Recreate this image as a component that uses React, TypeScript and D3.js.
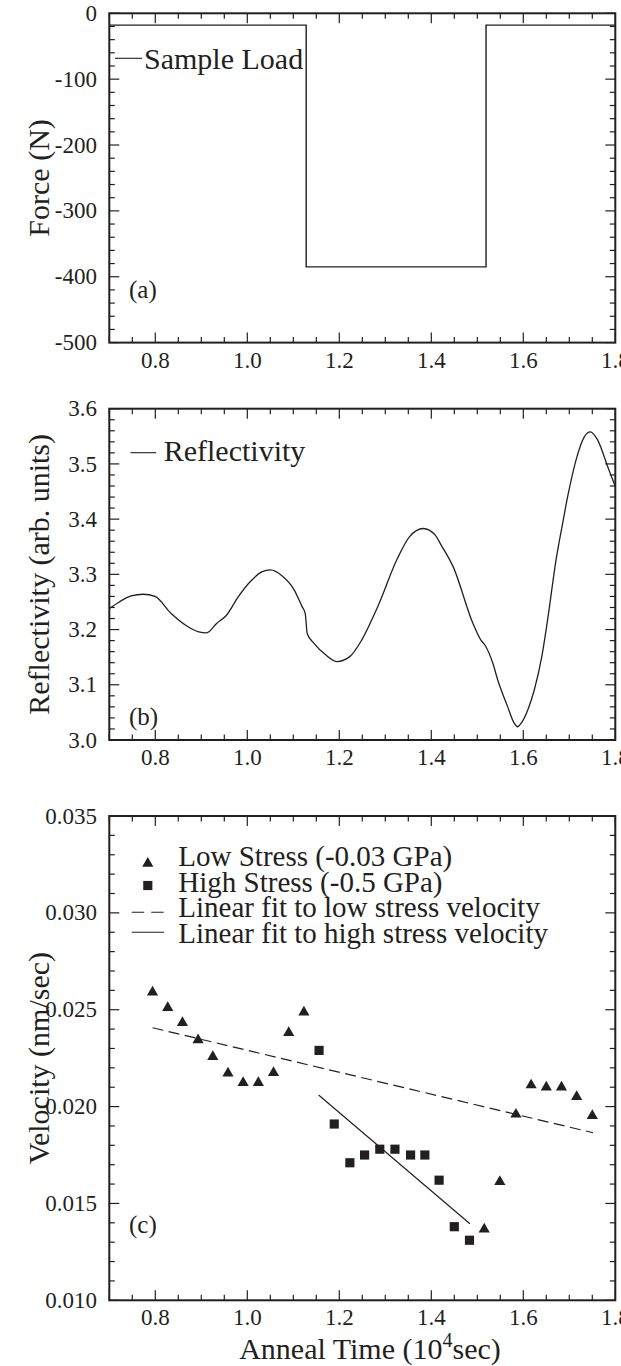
import React from 'react';
import * as d3 from 'd3';

const W = 621;
const H = 1366;
const FONT = '"Liberation Serif", "Times New Roman", Tinos, Times, serif';
const INK = '#231f20';

// ---- Axis ticks ----
const timeTicks = [0.8, 1.0, 1.2, 1.4, 1.6, 1.8];
const forceTicks = [0, -100, -200, -300, -400, -500];
const reflTicks = [3.0, 3.1, 3.2, 3.3, 3.4, 3.5, 3.6];
const velTicks = [0.01, 0.015, 0.02, 0.025, 0.03, 0.035];

// ---- (a) Sample load ----
const forceTime = [0.7, 1.128, 1.128, 1.519, 1.519, 1.8];
const forceValue = [-18, -18, -385, -385, -18, -18];

// ---- (b) Reflectivity ----
const reflTime = [
  0.7, 0.7215, 0.7476, 0.7735, 0.7994, 0.834, 0.8685, 0.8944, 0.9117, 0.9333,
  0.9548, 0.9809, 1.0067, 1.0326, 1.05, 1.0759, 1.1018, 1.1191, 1.1259, 1.1302,
  1.145, 1.1709, 1.195, 1.2228, 1.2487, 1.2833, 1.3265, 1.3524, 1.3826, 1.4085,
  1.4215, 1.4474, 1.4906, 1.5078, 1.5165, 1.5338, 1.5443, 1.5661, 1.5805, 1.5878,
  1.595, 1.6095, 1.624, 1.64, 1.655, 1.67, 1.685, 1.6965, 1.7146, 1.7326,
  1.7457, 1.7617, 1.7835, 1.8,
];
const reflValue = [
  3.238, 3.25, 3.261, 3.264, 3.26, 3.2295, 3.2065, 3.196, 3.194, 3.211,
  3.226, 3.26, 3.287, 3.305, 3.308, 3.297, 3.272, 3.2415, 3.2295, 3.193,
  3.175, 3.154, 3.142, 3.151, 3.181, 3.241, 3.329, 3.368, 3.383, 3.371,
  3.353, 3.314, 3.211, 3.181, 3.172, 3.139, 3.109, 3.06, 3.03, 3.024,
  3.03, 3.054, 3.091, 3.15, 3.23, 3.32, 3.39, 3.441, 3.507, 3.549,
  3.558, 3.543, 3.495, 3.459,
];

// ---- (c) Velocity ----
const lowTime = [
  0.794, 0.827, 0.859, 0.893, 0.925, 0.958, 0.991, 1.024, 1.057, 1.09, 1.123,
  1.515, 1.549, 1.584, 1.617, 1.65, 1.683, 1.716, 1.75,
];
const lowVel = [
  0.0259, 0.0251, 0.02433, 0.02344, 0.02257, 0.02172, 0.02123, 0.02123, 0.02175, 0.02381, 0.02487,
  0.01367, 0.01612, 0.0196, 0.02111, 0.021, 0.021, 0.02051, 0.01953,
];
const highTime = [1.156, 1.189, 1.223, 1.255, 1.288, 1.321, 1.355, 1.386, 1.417, 1.45, 1.483];
const highVel = [0.0229, 0.0191, 0.0171, 0.0175, 0.0178, 0.0178, 0.0175, 0.0175, 0.0162, 0.0138, 0.0131];
const fitLowTime = [0.794, 1.7515];
const fitLowVel = [0.02407, 0.01865];
const fitHighTime = [1.155, 1.484];
const fitHighVel = [0.0206, 0.01395];

const legendC = [
  'Low Stress (-0.03 GPa)',
  'High Stress (-0.5 GPa)',
  'Linear fit to low stress velocity',
  'Linear fit to high stress velocity',
];

const LEFT = 109.3;
const RIGHT = 615.3;
const x = d3.scaleLinear().domain([0.7, 1.8]).range([LEFT, RIGHT]);

const near = (arr: number[], v: number) => arr.some((a) => Math.abs(a - v) < 1e-9);

function Frame({ y, yMinor, yMajor, yFmt, yLabel, top, bottom }: any) {
  const xMinor = d3.range(0, 23).map((i) => +(0.7 + i * 0.05).toFixed(3));
  const els: any[] = [];
  xMinor.forEach((v, i) => {
    const len = near(timeTicks, v) ? 10 : 5.5;
    const px = x(v);
    els.push(<line key={'xb' + i} x1={px} x2={px} y1={bottom} y2={bottom - len} />);
    els.push(<line key={'xt' + i} x1={px} x2={px} y1={top} y2={top + len} />);
  });
  yMinor.forEach((v: number, i: number) => {
    const len = near(yMajor, v) ? 10 : 5.5;
    const py = y(v);
    els.push(<line key={'yl' + i} x1={LEFT} x2={LEFT + len} y1={py} y2={py} />);
    els.push(<line key={'yr' + i} x1={RIGHT} x2={RIGHT - len} y1={py} y2={py} />);
  });
  return (
    <g>
      <g stroke={INK} strokeWidth={1.2}>{els}</g>
      <rect x={LEFT} y={top} width={RIGHT - LEFT} height={bottom - top} fill="none" stroke={INK} strokeWidth={2} />
      <g fontFamily={FONT} fontSize={23} fill={INK}>
        {timeTicks.map((v) => (
          <text key={'xl' + v} x={x(v)} y={bottom + 25} textAnchor="middle">{d3.format('.1f')(v)}</text>
        ))}
        {yMajor.map((v: number) => (
          <text key={'yl' + v} x={97} y={y(v) + 7.6} textAnchor="end">{yFmt(v)}</text>
        ))}
      </g>
      <text
        transform={`translate(49,${(top + bottom) / 2}) rotate(-90)`}
        textAnchor="middle"
        fontFamily={FONT}
        fontSize={30}
        fill={INK}
      >
        {yLabel}
      </text>
    </g>
  );
}

export default function App() {
  // Panel (a)
  const aTop = 13.3, aBot = 342.6;
  const ya = d3.scaleLinear().domain([-500, 0]).range([aBot, aTop]);
  const forceLine = d3.line<number>().x((_, i) => x(forceTime[i])).y((d) => ya(d));

  // Panel (b)
  const bTop = 408.7, bBot = 740;
  const yb = d3.scaleLinear().domain([3.0, 3.6]).range([bBot, bTop]);
  const reflLine = d3
    .line<number>()
    .x((_, i) => x(reflTime[i]))
    .y((d) => yb(d))
    .curve(d3.curveMonotoneX);

  // Panel (c)
  const cTop = 816, cBot = 1300.3;
  const yc = d3.scaleLinear().domain([0.01, 0.035]).range([cBot, cTop]);
  const fitLine = d3.line<number>().x((d) => x(d[0])).y((d) => yc(d[1]));
  const tri = d3.symbol().type(d3.symbolTriangle).size(54)();
  const sq = d3.symbol().type(d3.symbolSquare).size(84)();

  return (
    <svg
      width={W}
      height={H}
      viewBox={`0 0 ${W} ${H}`}
      style={{ position: 'absolute', left: 0, top: 0, background: '#fff' }}
    >
      <rect x={0} y={0} width={W} height={H} fill="#fff" />

      {/* (a) */}
      <Frame
        y={ya}
        yMinor={d3.range(-500, 1, 20)}
        yMajor={forceTicks}
        yFmt={(v: number) => String(v)}
        yLabel="Force (N)"
        top={aTop}
        bottom={aBot}
      />
      <path d={forceLine(forceValue) || ''} fill="none" stroke={INK} strokeWidth={1.4} />
      <line x1={115} x2={142} y1={58.3} y2={58.3} stroke={INK} strokeWidth={1.1} />
      <text x={144} y={69} fontFamily={FONT} fontSize={30} fill={INK}>Sample Load</text>
      <text x={129} y={298} fontFamily={FONT} fontSize={25} fill={INK}>(a)</text>

      {/* (b) */}
      <Frame
        y={yb}
        yMinor={d3.range(0, 31).map((i) => +(3.0 + i * 0.02).toFixed(3))}
        yMajor={reflTicks}
        yFmt={d3.format('.1f')}
        yLabel="Reflectivity (arb. units)"
        top={bTop}
        bottom={bBot}
      />
      <path d={reflLine(reflValue) || ''} fill="none" stroke={INK} strokeWidth={1.3} />
      <line x1={130.4} x2={156.2} y1={452.7} y2={452.7} stroke={INK} strokeWidth={1.1} />
      <text x={163.7} y={460.7} fontFamily={FONT} fontSize={30} fill={INK}>Reflectivity</text>
      <text x={129} y={725} fontFamily={FONT} fontSize={25} fill={INK}>(b)</text>

      {/* (c) */}
      <Frame
        y={yc}
        yMinor={d3.range(0, 26).map((i) => +(0.01 + i * 0.001).toFixed(4))}
        yMajor={velTicks}
        yFmt={d3.format('.3f')}
        yLabel="Velocity (nm/sec)"
        top={cTop}
        bottom={cBot}
      />
      <path
        d={fitLine(fitLowTime.map((t, i) => [t, fitLowVel[i]])) || ''}
        fill="none"
        stroke={INK}
        strokeWidth={1.2}
        strokeDasharray="11,5.5"
      />
      <path
        d={fitLine(fitHighTime.map((t, i) => [t, fitHighVel[i]])) || ''}
        fill="none"
        stroke={INK}
        strokeWidth={1.2}
      />
      {lowTime.map((t, i) => (
        <path key={'lt' + i} d={tri || ''} transform={`translate(${x(t)},${yc(lowVel[i])})`} fill={INK} />
      ))}
      {highTime.map((t, i) => (
        <path key={'hs' + i} d={sq || ''} transform={`translate(${x(t)},${yc(highVel[i])})`} fill={INK} />
      ))}

      {/* legend (c) */}
      <path d={tri || ''} transform="translate(147.8,863.5)" fill={INK} />
      <path d={sq || ''} transform="translate(147.8,885.5)" fill={INK} />
      <line x1={131.7} x2={164} y1={912.3} y2={912.3} stroke={INK} strokeWidth={1.1} strokeDasharray="12.5,7" />
      <line x1={131.7} x2={164} y1={932.3} y2={932.3} stroke={INK} strokeWidth={1.1} />
      <g fontFamily={FONT} fontSize={29} fill={INK}>
        {legendC.map((s, i) => (
          <text key={s} x={178.3} y={866 + i * 25.6}>{s}</text>
        ))}
      </g>
      <text x={129} y={1233} fontFamily={FONT} fontSize={25} fill={INK}>(c)</text>

      {/* x axis title */}
      <text x={370} y={1359} textAnchor="middle" fontFamily={FONT} fontSize={30} fill={INK}>
        Anneal Time (10
        <tspan fontSize={20} dy={-12}>4</tspan>
        <tspan dy={12}>sec)</tspan>
      </text>
    </svg>
  );
}
